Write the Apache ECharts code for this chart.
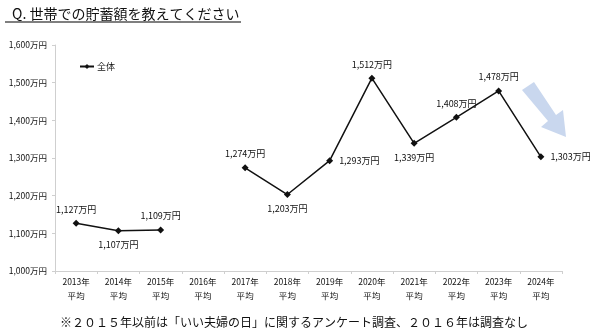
<!DOCTYPE html>
<html>
<head>
<meta charset="utf-8">
<script src="https://cdn.jsdelivr.net/npm/echarts@6/dist/echarts.min.js"></script>
<style>
  html, body { margin: 0; padding: 0; background: #fff; }
  #chart { width: 590px; height: 331px; }
</style>
</head>
<body>
<div id="chart"></div>
<script>
// Household savings by survey year (unit: 万円); 2016 had no survey
const categories = ['2013年\n平均', '2014年\n平均', '2015年\n平均', '2016年\n平均', '2017年\n平均', '2018年\n平均',
  '2019年\n平均', '2020年\n平均', '2021年\n平均', '2022年\n平均', '2023年\n平均', '2024年\n平均'];
const savings = [1127, 1107, 1109, null, 1274, 1203, 1293, 1512, 1339, 1408, 1478, 1303];
const labelPositions = ['top', 'bottom', 'top', 'top', 'top', 'bottom', 'right', 'top', 'bottom', 'top', 'top', 'right'];
const yTicks = { min: 1000, max: 1600, interval: 100 };

const FONT = '"Noto Sans CJK JP", sans-serif';
const fmt = v => v.toLocaleString('en-US') + '万円';

const chart = echarts.init(document.getElementById('chart'), null, { renderer: 'canvas' });

const seriesData = savings.map((v, i) => ({
  value: v,
  label: { position: labelPositions[i] }
}));

chart.setOption({
  animation: false,
  backgroundColor: '#fff',
  textStyle: { fontFamily: FONT },
  title: {
    text: 'Q. 世帯での貯蓄額を教えてください',
    left: 7, top: 2,
    textStyle: { fontFamily: FONT, fontSize: 14, fontWeight: 'normal', color: '#111' }
  },
  legend: {
    data: ['全体'],
    left: 74, top: 57,
    itemWidth: 14, itemHeight: 6, itemGap: 4,
    textStyle: { fontFamily: FONT, fontSize: 9, color: '#111', padding: [0, 0, 0, -2] }
  },
  grid: { left: 55, right: 28, top: 45, bottom: 60 },
  xAxis: {
    type: 'category',
    data: categories,
    boundaryGap: true,
    axisLine: { lineStyle: { color: '#cfcfcf' } },
    axisTick: { show: true, length: 3, lineStyle: { color: '#cfcfcf' } },
    axisLabel: { fontFamily: FONT, fontSize: 8.5, color: '#111', lineHeight: 14, margin: 4 }
  },
  yAxis: {
    type: 'value',
    min: yTicks.min, max: yTicks.max, interval: yTicks.interval,
    axisLine: { show: true, lineStyle: { color: '#cfcfcf' } },
    axisTick: { show: true, length: 3, lineStyle: { color: '#cfcfcf' } },
    splitLine: { show: false },
    axisLabel: { fontFamily: FONT, fontSize: 8.5, color: '#111', margin: 8, formatter: v => fmt(v) }
  },
  series: [{
    name: '全体',
    type: 'line',
    data: seriesData,
    connectNulls: false,
    symbol: 'diamond',
    symbolSize: 7,
    itemStyle: { color: '#111' },
    lineStyle: { color: '#111', width: 1.5 },
    label: {
      show: true,
      fontFamily: FONT, fontSize: 9, color: '#111', distance: 6,
      formatter: p => fmt(p.value)
    }
  }],
  graphic: [
    // underline below the title
    { type: 'rect', shape: { x: 5, y: 21, width: 236, height: 2 }, style: { fill: '#7f7f7f' } },
    // downward trend arrow
    {
      type: 'polygon',
      shape: { points: [[522, 90], [534, 82], [556, 115], [563, 110], [566, 137], [541, 127], [548, 121]] },
      style: { fill: '#c9d7ee' }
    },
    {
      type: 'text', left: 60, top: 316,
      style: {
        text: '※２０１５年以前は「いい夫婦の日」に関するアンケート調査、２０１６年は調査なし',
        fontFamily: FONT, fontSize: 12, fill: '#111'
      }
    }
  ]
});
</script>
</body>
</html>
